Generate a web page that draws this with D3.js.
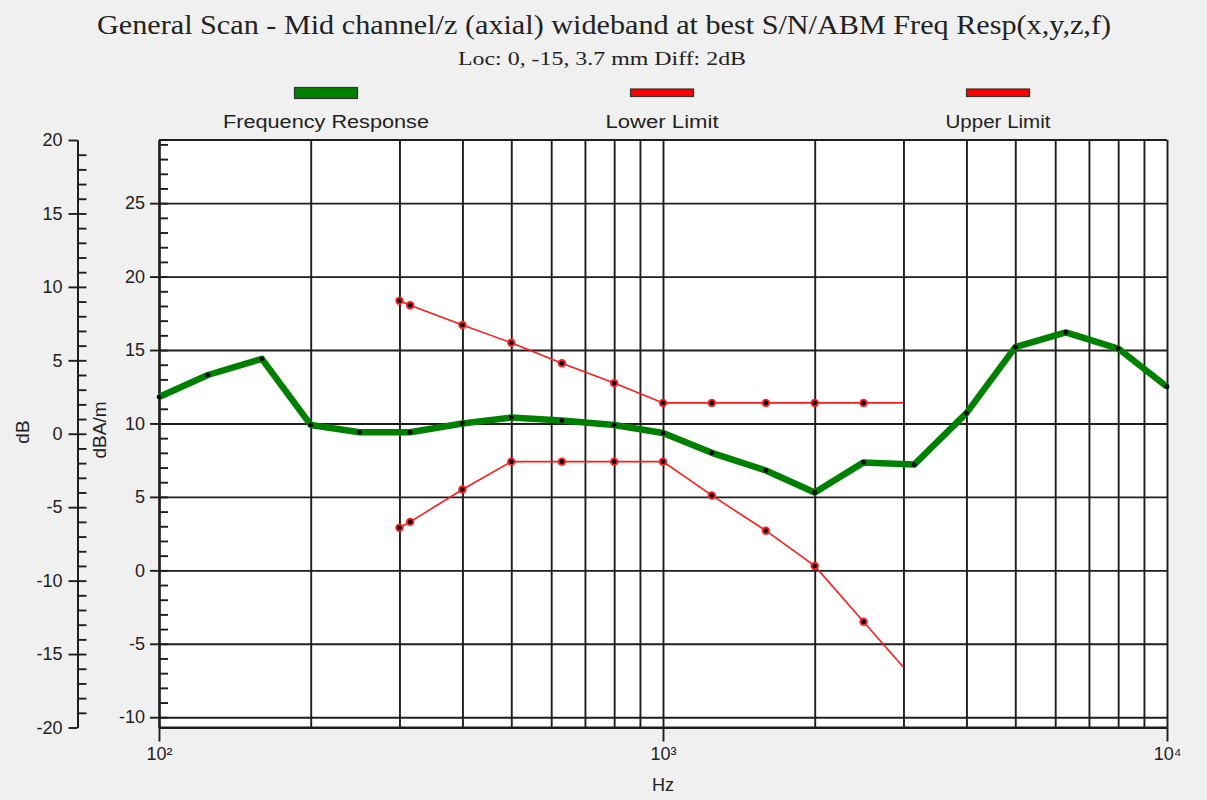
<!DOCTYPE html>
<html>
<head>
<meta charset="utf-8">
<script src="https://cdn.jsdelivr.net/npm/d3@7"></script>
<style>
  body { margin: 0; background: #f0f0f0; }
  svg { display: block; }
  text { font-family: "Liberation Sans", Arial, sans-serif; fill: #222; }
  .serif { font-family: "Liberation Serif", "Times New Roman", serif; }
</style>
</head>
<body>
<div id="chart"></div>
<script>
// frequency response (dBA/m), one point per third-octave band
var respFreq = [100, 125, 160, 200, 250, 315, 400, 500, 630, 800, 1000, 1250, 1600, 2000, 2500, 3150, 4000, 5000, 6300, 8000, 10000];
var respLevel = [11.8, 13.3, 14.4, 9.9, 9.4, 9.4, 10.0, 10.4, 10.2, 9.9, 9.35, 8.0, 6.8, 5.3, 7.35, 7.2, 10.7, 15.2, 16.2, 15.1, 12.5];

// limit curves (last point is the line end, no marker)
var limitFreq = [300, 315, 400, 500, 630, 800, 1000, 1250, 1600, 2000, 2500, 3000];
var lowerLevel = [2.9, 3.3, 5.5, 7.4, 7.4, 7.4, 7.4, 5.1, 2.7, 0.3, -3.5, -6.6];
var upperLevel = [18.35, 18.05, 16.7, 15.5, 14.1, 12.75, 11.4, 11.4, 11.4, 11.4, 11.4, 11.4];

var dbTicks = [-20, -15, -10, -5, 0, 5, 10, 15, 20];
var dbamTicks = [-10, -5, 0, 5, 10, 15, 20, 25];
var decadeTicks = [100, 1000, 10000];
var decadeLabels = ['10\u00B2', '10\u00B3', '10\u2074'];

var legendNames = ['Frequency Response', 'Lower Limit', 'Upper Limit'];
var legendColors = ['#008000', '#ff0000', '#ff0000'];

var chart = (function(){
    var _w = 1207, _h = 800;
    var _left = 159, _right = 1167, _top = 140, _bottom = 727.5;
    var _gridColor = '#1e1e1e';

    var _x = d3.scaleLog().domain([100, 10000]).range([_left, _right]);
    var _yDb = d3.scaleLinear().domain([-20, 20]).range([_bottom, _top]);
    var _yM = d3.scaleLinear().domain([-10.7, 29.3]).range([_bottom, _top]);

    // plain hyphen for negatives, like the original
    var _fmt = function(d){ return String(d); };

    function draw(){
        var svg = d3.select('#chart').append('svg')
            .attr('width', _w)
            .attr('height', _h);

        // plot background
        svg.append('rect')
            .attr('x', _left).attr('y', _top)
            .attr('width', _right - _left).attr('height', _bottom - _top)
            .attr('fill', '#fff');

        _titles(svg);
        _legend(svg);
        _grid(svg);
        _axes(svg);
        _series(svg);
    }

    function _titles(svg){
        svg.append('text')
            .attr('class', 'serif')
            .attr('x', 604).attr('y', 34)
            .attr('text-anchor', 'middle')
            .attr('font-size', 28)
            .attr('textLength', 1014).attr('lengthAdjust', 'spacingAndGlyphs')
            .text('General Scan - Mid channel/z (axial) wideband at best S/N/ABM Freq Resp(x,y,z,f)');

        svg.append('text')
            .attr('class', 'serif')
            .attr('x', 602).attr('y', 65)
            .attr('text-anchor', 'middle')
            .attr('font-size', 19)
            .attr('textLength', 288).attr('lengthAdjust', 'spacingAndGlyphs')
            .text('Loc: 0, -15, 3.7 mm Diff: 2dB');
    }

    function _legend(svg){
        var centers = [326, 662, 998];
        var widths = [206, 113, 105];
        var items = svg.append('g').selectAll('g')
            .data(legendNames)
            .enter().append('g')
                .attr('transform', function(d, i){ return 'translate(' + centers[i] + ',0)'; });

        items.append('rect')
            .attr('x', -31.5)
            .attr('y', function(d, i){ return i ? 89 : 87.5; })
            .attr('width', 63)
            .attr('height', function(d, i){ return i ? 7.5 : 11; })
            .attr('fill', function(d, i){ return legendColors[i]; })
            .attr('stroke', '#333')
            .attr('stroke-width', 1.2);

        items.append('text')
            .attr('y', 128)
            .attr('text-anchor', 'middle')
            .attr('font-size', 18)
            .attr('textLength', function(d, i){ return widths[i]; })
            .attr('lengthAdjust', 'spacingAndGlyphs')
            .text(function(d){ return d; });
    }

    function _grid(svg){
        var minorFreq = d3.range(200, 1000, 100).concat(d3.range(2000, 10000, 1000));

        var vg = svg.append('g')
            .attr('transform', 'translate(0,' + _bottom + ')')
            .call(d3.axisBottom(_x).tickValues(minorFreq.concat(decadeTicks))
                .tickSize(-(_bottom - _top)).tickFormat(''));
        vg.select('.domain').remove();

        var hg = svg.append('g')
            .attr('transform', 'translate(' + _left + ',0)')
            .call(d3.axisLeft(_yM).tickValues(dbamTicks)
                .tickSize(-(_right - _left)).tickFormat(''));
        hg.select('.domain').remove();

        svg.selectAll('line').attr('stroke', _gridColor).attr('stroke-width', 1.9);

        // frame top and bottom
        svg.append('line')
            .attr('x1', _left).attr('x2', _right)
            .attr('y1', _top).attr('y2', _top)
            .attr('stroke', _gridColor).attr('stroke-width', 1.9);
        svg.append('line')
            .attr('x1', _left).attr('x2', _right)
            .attr('y1', _bottom).attr('y2', _bottom)
            .attr('stroke', _gridColor).attr('stroke-width', 2);
    }

    function _axes(svg){
        // outer dB axis: minor ticks point right, majors cross the line
        svg.append('g').attr('transform', 'translate(77.5,0)')
            .call(d3.axisRight(_yDb).tickValues(d3.range(-19, 20)).tickSize(9).tickSizeOuter(0).tickFormat(''));
        svg.append('g').attr('class', 'labelled').attr('transform', 'translate(77.5,0)')
            .call(d3.axisLeft(_yDb).tickValues(dbTicks).tickSize(9).tickSizeOuter(0).tickPadding(6).tickFormat(_fmt));

        // inner dBA/m axis
        svg.append('g').attr('transform', 'translate(' + _left + ',0)')
            .call(d3.axisRight(_yM).tickValues(d3.range(-10, 30)).tickSize(9).tickSizeOuter(0).tickFormat(''));
        svg.append('g').attr('class', 'labelled').attr('transform', 'translate(' + _left + ',0)')
            .call(d3.axisLeft(_yM).tickValues(dbamTicks).tickSize(9).tickSizeOuter(0).tickPadding(5).tickFormat(_fmt));

        // frequency axis
        var bottom = svg.append('g').attr('class', 'labelled').attr('transform', 'translate(0,' + _bottom + ')');
        bottom.call(d3.axisBottom(_x).tickValues(decadeTicks).tickSize(14).tickSizeOuter(0).tickPadding(6)
            .tickFormat(function(d, i){ return decadeLabels[i]; }));

        svg.selectAll('.labelled .tick text').attr('font-size', 18).attr('fill', '#222')
            .style('font-family', '"Liberation Sans", Arial, sans-serif');
        svg.selectAll('.domain, .tick line').attr('stroke', _gridColor).attr('stroke-width', 1.9);

        svg.append('text')
            .attr('transform', 'translate(29,432) rotate(-90)')
            .attr('text-anchor', 'middle')
            .attr('font-size', 19)
            .text('dB');
        svg.append('text')
            .attr('transform', 'translate(106,430) rotate(-90)')
            .attr('text-anchor', 'middle')
            .attr('font-size', 19)
            .text('dBA/m');
        svg.append('text')
            .attr('x', _x(1000)).attr('y', 791)
            .attr('text-anchor', 'middle')
            .attr('font-size', 18)
            .text('Hz');
    }

    function _series(svg){
        var line = d3.line()
            .x(function(d){ return _x(d[0]); })
            .y(function(d){ return _yM(d[1]); });

        var lower = d3.zip(limitFreq, lowerLevel),
            upper = d3.zip(limitFreq, upperLevel),
            resp = d3.zip(respFreq, respLevel);

        [lower, upper].forEach(function(pts){
            svg.append('path')
                .attr('d', line(pts))
                .attr('fill', 'none')
                .attr('stroke', '#ff1a1a')
                .attr('stroke-width', 1.6);

            var dots = svg.append('g').selectAll('g')
                .data(pts.slice(0, -1))
                .enter().append('g');
            dots.append('circle')
                .attr('cx', function(d){ return _x(d[0]); })
                .attr('cy', function(d){ return _yM(d[1]); })
                .attr('r', 4.2)
                .attr('fill', '#ff2020');
            dots.append('circle')
                .attr('cx', function(d){ return _x(d[0]); })
                .attr('cy', function(d){ return _yM(d[1]); })
                .attr('r', 2.3)
                .attr('fill', '#000');
        });

        svg.append('path')
            .attr('d', line(resp))
            .attr('fill', 'none')
            .attr('stroke', '#008000')
            .attr('stroke-width', 6.5)
            .attr('stroke-linejoin', 'round');

        svg.append('g').selectAll('circle')
            .data(resp)
            .enter().append('circle')
                .attr('cx', function(d){ return _x(d[0]); })
                .attr('cy', function(d){ return _yM(d[1]); })
                .attr('r', 2.4)
                .attr('fill', '#000');
    }

    return {
        draw: draw
    };
})();

chart.draw();
</script>
</body>
</html>
